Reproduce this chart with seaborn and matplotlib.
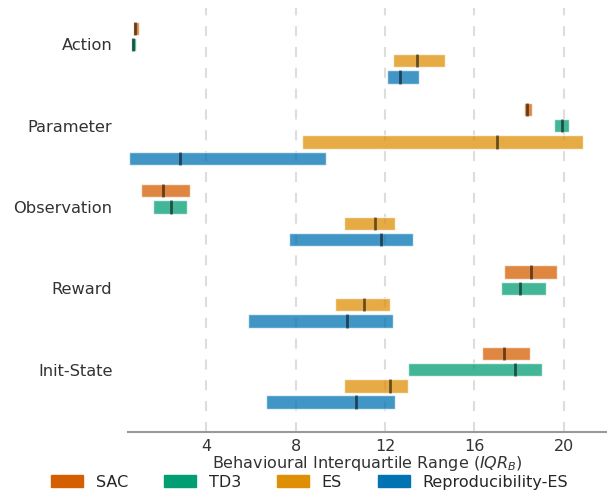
import matplotlib
matplotlib.use("Agg")
import matplotlib.pyplot as plt
import matplotlib.patches as mpatches
import seaborn as sns
import numpy as np

# Behavioural IQR per perturbation type
categories = ["Action", "Parameter", "Observation", "Reward", "Init-State"]
methods = ["SAC", "TD3", "ES", "Reproducibility-ES"]

sac_q1 = [0.70, 18.21, 1.08, 17.35, 16.36]
sac_med = [0.82, 18.36, 2.08, 18.54, 17.33]
sac_q3 = [0.99, 18.57, 3.28, 19.69, 18.47]

td3_q1 = [0.61, 19.58, 1.60, 17.19, 13.04]
td3_med = [0.72, 19.91, 2.40, 18.06, 17.83]
td3_q3 = [0.84, 20.26, 3.15, 19.20, 19.03]

es_q1 = [12.38, 8.30, 10.17, 9.74, 10.17]
es_med = [13.44, 17.03, 11.56, 11.04, 12.23]
es_q3 = [14.69, 20.85, 12.47, 12.22, 13.05]

rep_q1 = [12.08, 0.52, 7.70, 5.85, 6.68]
rep_med = [12.68, 2.81, 11.80, 10.31, 10.68]
rep_q3 = [13.54, 9.38, 13.26, 12.35, 12.47]

sns.set_style("white")
plt.rcParams["font.family"] = ["DejaVu Sans"]
pal = sns.color_palette("colorblind")
colors = {"SAC": pal[3], "TD3": pal[2], "ES": pal[1], "Reproducibility-ES": pal[0]}

series = {
    "SAC": (sac_q1, sac_med, sac_q3),
    "TD3": (td3_q1, td3_med, td3_q3),
    "ES": (es_q1, es_med, es_q3),
    "Reproducibility-ES": (rep_q1, rep_med, rep_q3),
}
offsets = [-0.2, 0.0, 0.2, 0.4]
h = 0.165

fig, ax = plt.subplots(figsize=(6.11, 4.95), dpi=100)
fig.subplots_adjust(left=0.209, right=0.992, top=0.984, bottom=0.127)

base = np.arange(len(categories))
for m, off in zip(methods, offsets):
    q1, med, q3 = (np.array(v) for v in series[m])
    y = base + off
    ax.barh(y, q3 - q1, left=q1, height=h, color=colors[m], alpha=0.75,
            edgecolor=(1, 1, 1, 0.5), linewidth=1, zorder=2)
    ax.vlines(med, y - h / 2, y + h / 2, color="black", alpha=0.55, lw=2, zorder=3)

ax.set_yticks(base)
ax.set_yticklabels(categories, fontsize=11.7, color=".2")
ax.set_ylim(4.77, -0.45)
ax.set_xlim(0.48, 21.9)
ax.set_xticks([4, 8, 12, 16, 20])
ax.tick_params(axis="x", labelsize=11.5, colors=".2", length=0, pad=5)
ax.tick_params(axis="y", length=0, pad=11)
ax.xaxis.grid(True, color="#dddddd", lw=1.5, ls=(0, (4.8, 5.2)), zorder=0)
ax.set_axisbelow(True)
for s in ["top", "right", "left"]:
    ax.spines[s].set_visible(False)
ax.spines["bottom"].set_color("#999999")
ax.spines["bottom"].set_linewidth(1.5)
ax.set_xlabel("Behavioural Interquartile Range ($IQR_B$)", fontsize=11.5,
              color=".2", labelpad=0)

handles = [mpatches.Patch(color=colors[m], label=m) for m in methods]
fig.legend(handles=handles, loc="lower center", ncol=4, frameon=False,
           fontsize=11.5, bbox_to_anchor=(0.507, -0.018), labelcolor=".15",
           handletextpad=0.8, columnspacing=2.25)

fig.savefig("out.png", dpi=100)
